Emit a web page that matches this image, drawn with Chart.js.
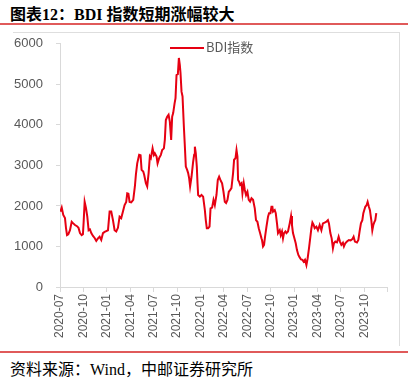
<!DOCTYPE html>
<html lang="zh-CN">
<head>
    <meta charset="UTF-8">
    <title>BDI指数短期涨幅较大</title>
    <script src="https://cdn.jsdelivr.net/npm/chart.js"></script>
    <style>
        body {
            margin: 0;
            width: 411px;
            height: 387px;
            position: relative;
            overflow: hidden;
            background: #fff;
            font-family: "Noto Sans CJK SC", sans-serif;
        }

        .title {
            position: absolute;
            left: 10px;
            top: 1px;
            font-family: "Liberation Serif", "Noto Sans CJK SC", serif;
            font-weight: bold;
            font-size: 16px;
            color: #000;
            white-space: nowrap;
        }

        .rule {
            position: absolute;
            left: 0;
            width: 408px;
            height: 2px;
            background: #e05a5a;
        }

        .frame {
            position: absolute;
            left: 13px;
            top: 32px;
            width: 386px;
            height: 313px;
            border-top: 1px solid #dedede;
            border-right: 1px solid #dedede;
        }

        /* canvas is shifted up so the plot top lands on y=44 */
        .chart-wrap {
            position: absolute;
            left: 13px;
            top: 23px;
            width: 391px;
            height: 323px;
        }

        .legend {
            position: absolute;
            left: 170px;
            top: 38px;
            font-size: 13px;
            color: #595959;
            white-space: nowrap;
            line-height: 17px;
        }

        .legend i {
            display: inline-block;
            width: 34px;
            height: 2px;
            background: #e60012;
            vertical-align: middle;
            margin-right: 2px;
        }

        .source {
            position: absolute;
            left: 10px;
            top: 356px;
            font-family: "Liberation Serif", "Noto Sans CJK SC", serif;
            font-size: 16px;
            color: #000;
            white-space: nowrap;
        }
    </style>
</head>
<body>
    <div class="title">图表12：BDI 指数短期涨幅较大</div>
    <div class="rule" style="top:23px"></div>
    <div class="frame"></div>
    <div class="chart-wrap"><canvas id="bdiChart"></canvas></div>
    <div class="legend"><i></i>BDI指数</div>
    <div class="rule" style="top:351px"></div>
    <div class="source">资料来源：Wind，中邮证券研究所</div>

    <script>
        // x = months since 2020-07
        const monthOffsets = [
            0.04, 0.22, 0.42, 0.64, 0.77, 0.90, 1.06, 1.28, 1.50, 1.70,
            1.92, 2.18, 2.37, 2.56, 2.78, 2.94, 3.03, 3.16, 3.33, 3.50,
            3.67, 3.84, 4.01, 4.23, 4.44, 4.65, 4.87, 5.08, 5.29, 5.51,
            5.72, 5.93, 6.15, 6.36, 6.57, 6.79, 7.00, 7.21, 7.43, 7.64,
            7.85, 8.07, 8.28, 8.49, 8.62, 8.77, 8.92, 9.13, 9.39, 9.60,
            9.73, 9.90, 10.15, 10.33, 10.46, 10.67, 10.79, 11.01, 11.18, 11.36,
            11.52, 11.65, 11.87, 12.04, 12.16, 12.38, 12.51, 12.71, 12.93, 13.10,
            13.32, 13.44, 13.57, 13.74, 13.92, 14.08, 14.25, 14.38, 14.51, 14.69,
            14.81, 14.94, 15.11, 15.24, 15.36, 15.45, 15.58, 15.71, 15.88, 16.01,
            16.13, 16.30, 16.43, 16.56, 16.68, 16.86, 17.07, 17.20, 17.29, 17.41,
            17.54, 17.63, 17.71, 17.93, 18.14, 18.35, 18.57, 18.69, 18.82, 18.99,
            19.17, 19.30, 19.50, 19.68, 19.85, 20.06, 20.23, 20.40, 20.61, 20.78,
            20.96, 21.13, 21.29, 21.47, 21.64, 21.81, 21.98, 22.19, 22.32, 22.50,
            22.63, 22.75, 22.83, 22.96, 23.09, 23.27, 23.39, 23.56, 23.69, 23.85,
            24.03, 24.20, 24.37, 24.55, 24.75, 24.97, 25.13, 25.31, 25.48, 25.65,
            25.83, 25.90, 26.03, 26.16, 26.29, 26.47, 26.67, 26.80, 26.98, 27.11,
            27.23, 27.31, 27.53, 27.66, 27.82, 27.95, 28.17, 28.30, 28.46, 28.59,
            28.72, 28.90, 29.03, 29.23, 29.45, 29.62, 29.74, 29.87, 30.05, 30.22,
            30.38, 30.56, 30.73, 30.90, 31.08, 31.24, 31.41, 31.59, 31.75, 31.92,
            32.10, 32.23, 32.36, 32.52, 32.65, 32.87, 33.07, 33.29, 33.51, 33.71,
            33.93, 34.15, 34.35, 34.48, 34.66, 34.83, 34.99, 35.12, 35.30, 35.51,
            35.72, 35.89, 36.07, 36.27, 36.40, 36.58, 36.79, 37.04, 37.26, 37.48,
            37.64, 37.81, 38.07, 38.25, 38.41, 38.58, 38.76, 38.89, 39.01, 39.14,
            39.31, 39.44, 39.60, 39.73, 39.91, 40.04, 40.17, 40.30, 40.42, 40.55
        ];

        const bdiValues = [
            1860, 1960, 1780, 1700, 1450, 1280, 1300, 1400, 1610, 1570,
            1530, 1500, 1460, 1330, 1280, 1300, 1600, 2100, 1950, 1735,
            1400, 1420, 1330, 1260, 1210, 1140, 1200, 1240, 1160, 1330,
            1360, 1380, 1400, 1860, 1860, 1650, 1400, 1370, 1460, 1735,
            1700, 1860, 2020, 2100, 2310, 2300, 2100, 2090, 2150, 2480,
            2770, 3050, 3260, 3250, 2890, 2850, 2770, 2560, 2480, 2810,
            3220, 3180, 3420, 3260, 3300, 3220, 3050, 3180, 3260, 3380,
            3420, 3630, 4120, 4200, 4250, 4080, 3630, 4200, 4290, 4530,
            4660, 5230, 5250, 5650, 5480, 5280, 4820, 4700, 3960, 3460,
            2970, 2890, 2810, 2680, 2480, 2720, 3090, 3260, 3460, 3300,
            2970, 2560, 2270, 2230, 2270, 2230, 1900, 1650, 1450, 1450,
            1490, 1940, 1960, 2150, 2020, 2270, 2640, 2720, 2620, 2560,
            2350, 2100, 2070, 2150, 2350, 2390, 2440, 2810, 3140, 3180,
            3380, 3220, 2640, 2600, 2520, 2560, 2310, 2560, 2400, 2270,
            2350, 2150, 2110, 2190, 2150, 1940, 1650, 1610, 1450, 1330,
            1200, 1160, 1000, 1040, 1240, 1490, 1735, 1820, 1820, 1980,
            1980, 1860, 1900, 1820, 1570, 1330, 1400, 1280, 1370, 1200,
            1330, 1370, 1330, 1370, 1570, 1750, 1530, 1330, 1200, 1080,
            910, 790, 730, 680, 670, 625, 670, 540, 710, 955,
            1240, 1450, 1590, 1530, 1450, 1490, 1400, 1530, 1400, 1570,
            1590, 1610, 1650, 1570, 1330, 1200, 955, 1080, 1120, 1100,
            1240, 1120, 1040, 1090, 1000, 1080, 1120, 1160, 1150, 1180,
            1240, 1120, 1100, 1160, 1370, 1570, 1650, 1820, 1900, 1980,
            2020, 2100, 1980, 1900, 1650, 1400, 1530, 1600, 1650, 1820
        ];

        const tickMonths = [0, 3, 6, 9, 12, 15, 18, 21, 24, 27, 30, 33, 36, 39, 42];
        const tickLabels = [
            '2020-07', '2020-10', '2021-01', '2021-04', '2021-07', '2021-10', '2022-01',
            '2022-04', '2022-07', '2022-10', '2023-01', '2023-04', '2023-07', '2023-10', ''
        ];

        const axisGray = '#d9d9d9';
        const labelGray = '#595959';

        const ctx = document.getElementById('bdiChart').getContext('2d');
        new Chart(ctx, {
            type: 'line',
            data: {
                datasets: [{
                    label: 'BDI指数',
                    data: monthOffsets.map((m, i) => ({ x: m, y: bdiValues[i] })),
                    borderColor: '#e60012',
                    backgroundColor: '#e60012',
                    borderWidth: 2,
                    pointRadius: 0,
                    tension: 0,
                    fill: false
                }]
            },
            options: {
                responsive: true,
                maintainAspectRatio: false,
                animation: false,
                layout: {
                    padding: { top: 4, right: 12, left: 0, bottom: 0 }
                },
                scales: {
                    x: {
                        type: 'linear',
                        min: 0,
                        max: 42,
                        afterBuildTicks: (scale) => {
                            scale.ticks = tickMonths.map(v => ({ value: v }));
                        },
                        afterFit: (scale) => { scale.height = 59; },
                        ticks: {
                            autoSkip: false,
                            minRotation: 90,
                            maxRotation: 90,
                            padding: 2,
                            color: labelGray,
                            font: { family: 'Liberation Sans', size: 12 },
                            callback: (value, index) => tickLabels[index]
                        },
                        grid: {
                            drawOnChartArea: false,
                            drawTicks: true,
                            tickLength: 5,
                            color: axisGray
                        },
                        border: { color: axisGray }
                    },
                    y: {
                        min: 0,
                        max: 6000,
                        afterFit: (scale) => { scale.width = 47; },
                        ticks: {
                            stepSize: 1000,
                            padding: 13,
                            color: labelGray,
                            font: { family: 'Liberation Sans', size: 13 },
                            callback: (value) => String(value)
                        },
                        grid: {
                            drawOnChartArea: false,
                            drawTicks: true,
                            tickLength: 4,
                            color: axisGray
                        },
                        border: { color: axisGray }
                    }
                },
                plugins: {
                    legend: { display: false },
                    tooltip: { enabled: false }
                }
            }
        });
    </script>
</body>
</html>
